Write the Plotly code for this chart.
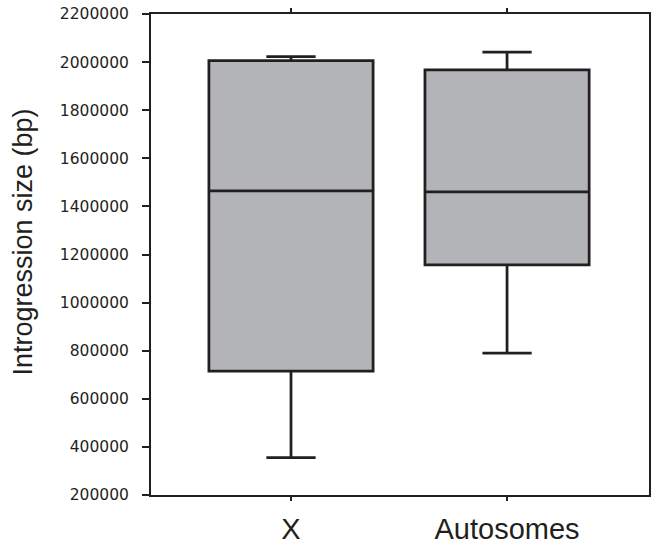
import plotly.graph_objects as go

categories = ["X", "Autosomes"]
lower_whisker = [355000, 790000]
q1_values = [715000, 1157000]
median_values = [1465000, 1460000]
q3_values = [2006000, 1968000]
upper_whisker = [2023000, 2042000]
y_tick_values = list(range(200000, 2200001, 200000))
y_tick_labels = [str(v) for v in y_tick_values]
y_title = "Introgression size (bp)"

ink = "#231f20"

fig = go.Figure()
fig.add_trace(go.Box(
    x=categories,
    q1=q1_values,
    median=median_values,
    q3=q3_values,
    lowerfence=lower_whisker,
    upperfence=upper_whisker,
    fillcolor="#b3b4b8",
    line=dict(color=ink, width=2.75),
    whiskerwidth=0.3,
    width=0.76,
    boxpoints=False,
    hoverinfo="skip",
    showlegend=False,
))

fig.update_layout(
    width=651,
    height=546,
    margin=dict(l=151, r=2, t=14, b=51, autoexpand=False),
    paper_bgcolor="white",
    plot_bgcolor="white",
    showlegend=False,
)

fig.add_annotation(
    text=y_title,
    xref="paper", yref="paper",
    x=(22 - 151) / 498, y=(495 - 242.5) / 481,
    xanchor="center", yanchor="middle",
    textangle=-90,
    showarrow=False,
    font=dict(family="Liberation Sans, Arial, sans-serif", size=27, color=ink),
)

fig.update_xaxes(
    type="category",
    range=[-0.648, 1.657],
    automargin=False,
    showline=True,
    linecolor=ink,
    linewidth=2,
    mirror="ticks",
    ticks="outside",
    ticklen=4,
    tickwidth=2,
    tickcolor=ink,
    showgrid=False,
    zeroline=False,
    tickfont=dict(family="Liberation Sans, Arial, sans-serif", size=29, color=ink),
    ticklabelstandoff=3,
)

fig.update_yaxes(
    range=[200000, 2200000],
    automargin=False,
    tickmode="array",
    tickvals=y_tick_values,
    ticktext=y_tick_labels,
    showline=True,
    linecolor=ink,
    linewidth=2,
    mirror="ticks",
    ticks="outside",
    ticklen=7,
    tickwidth=2,
    tickcolor=ink,
    showgrid=False,
    zeroline=False,
    tickfont=dict(family="DejaVu Sans, sans-serif", size=15.5, color=ink),
    ticklabelstandoff=10,
)

fig.write_html(
    "out.html",
    config={"displayModeBar": False},
    post_script="document.body.style.margin='0';document.body.style.overflow='hidden';",
)
